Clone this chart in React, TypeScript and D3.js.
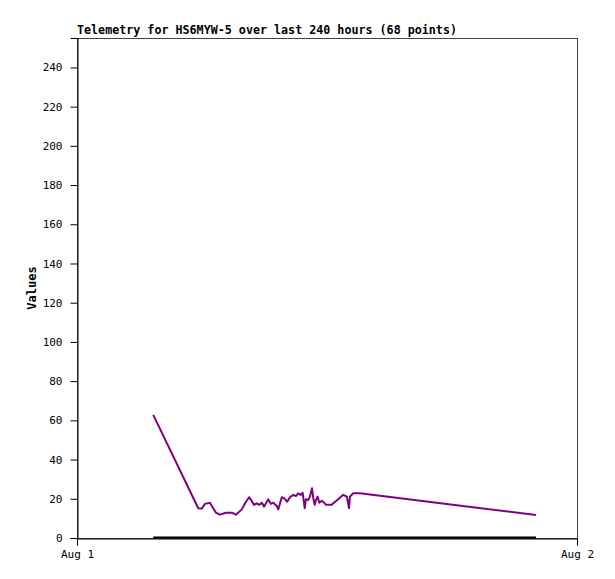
import React, { useEffect, useRef } from 'react';
import * as d3 from 'd3';

// hours after Aug 1 00:00 and the value read at that time
const hours = [
  3.66, 5.82, 5.99, 6.14, 6.38, 6.51, 6.67, 6.86, 7.15, 7.43, 7.63, 7.91, 8.11, 8.27,
  8.5, 8.63, 8.75, 8.87, 8.98, 9.18, 9.3, 9.42, 9.59, 9.66, 9.83, 9.94, 10.09, 10.22,
  10.38, 10.51, 10.62, 10.74, 10.83, 10.93, 10.99, 11.1, 11.18, 11.28, 11.34, 11.41,
  11.47, 11.55, 11.63, 11.75, 11.86, 11.95, 12.23, 12.3, 12.54, 12.78, 12.95, 13.06,
  13.1, 13.26, 13.58, 22.03,
];
const values = [
  62.8, 15.2, 15, 17.4, 18, 15.7, 12.9, 11.9, 12.9, 12.9, 11.9, 14.6, 18.5, 20.8,
  16.9, 17.7, 16.9, 18, 16, 19.8, 17.4, 18, 16.3, 14.6, 20.8, 20.3, 18.5, 20.8,
  22, 21.4, 22.8, 22, 23.1, 15.2, 19.8, 19.4, 21.1, 25.4, 20.3, 16.9,
  19.4, 21.1, 18, 19, 18, 16.9, 16.9, 17.7, 19.8, 22, 21.1, 15.2,
  21.1, 22.8, 22.8, 11.7,
];
const baseline = hours.map(() => 0);
const yTicks = [0, 20, 40, 60, 80, 100, 120, 140, 160, 180, 200, 220, 240];
const xTicks = ['2023-08-01T00:00', '2023-08-02T00:00'];
const title = 'Telemetry for HS6MYW-5 over last 240 hours (68 points)';

export default function App() {
  const svgRef = useRef<SVGSVGElement>(null);

  useEffect(() => {
    if (!svgRef.current) return;
    const width = 615;
    const height = 579;
    const margin = { top: 38, right: 38, bottom: 41, left: 77 };
    const svg = d3.select(svgRef.current);
    svg.selectAll('*').remove();
    svg.attr('width', width).attr('height', height).attr('viewBox', [0, 0, width, height]);

    const mono = '"DejaVu Sans Mono", "Liberation Mono", monospace';
    const start = new Date(xTicks[0]);
    const toDate = (h: number) => new Date(start.getTime() + h * 3600 * 1000);

    const x = d3.scaleTime()
      .domain([new Date(xTicks[0]), new Date(xTicks[1])])
      .range([margin.left, width - margin.right]);
    const y = d3.scaleLinear()
      .domain([0, 255])
      .range([height - margin.bottom, margin.top]);

    // frame
    svg.append('rect')
      .attr('x', margin.left + 0.5)
      .attr('y', margin.top + 0.5)
      .attr('width', width - margin.left - margin.right)
      .attr('height', height - margin.top - margin.bottom)
      .attr('fill', 'none')
      .attr('stroke', '#444')
      .attr('stroke-width', 1);

    const yAxis = svg.append('g')
      .attr('transform', `translate(${margin.left + 0.5},0)`)
      .call(d3.axisLeft(y).tickValues(yTicks).tickSize(7).tickPadding(8));
    const xAxis = svg.append('g')
      .attr('transform', `translate(0,${height - margin.bottom + 0.5})`)
      .call(d3.axisBottom(x)
        .tickValues(xTicks.map(t => new Date(t)))
        .tickFormat(d => d3.timeFormat('%b %-d')(d as Date))
        .tickSize(7)
        .tickPadding(5));
    [yAxis, xAxis].forEach(g => {
      g.select('.domain').attr('stroke', '#000');
      g.selectAll('line').attr('stroke', '#000');
      g.selectAll('text')
        .attr('font-family', mono)
        .attr('font-size', 11)
        .attr('fill', '#000');
    });

    svg.append('text')
      .attr('x', margin.left)
      .attr('y', 34)
      .attr('font-family', mono)
      .attr('font-size', 11.7)
      .attr('font-weight', 'bold')
      .text(title);

    svg.append('text')
      .attr('transform', `translate(36,${(margin.top + height - margin.bottom) / 2}) rotate(-90)`)
      .attr('text-anchor', 'middle')
      .attr('font-family', mono)
      .attr('font-size', 12)
      .attr('font-weight', 'bold')
      .text('Values');

    const line = d3.line<number>()
      .x((_, i) => x(toDate(hours[i])))
      .y(d => y(d));

    svg.append('path')
      .datum(baseline)
      .attr('fill', 'none')
      .attr('stroke', '#000')
      .attr('stroke-width', 2)
      .attr('transform', 'translate(0,-0.5)')
      .attr('d', line);

    svg.append('path')
      .datum(values)
      .attr('fill', 'none')
      .attr('stroke', '#800080')
      .attr('stroke-width', 2)
      .attr('stroke-linejoin', 'round')
      .attr('d', line);
  }, []);

  return (
    <div style={{ position: 'absolute', left: 0, top: 0 }}>
      <svg ref={svgRef} style={{ display: 'block', background: '#fff' }} />
    </div>
  );
}
